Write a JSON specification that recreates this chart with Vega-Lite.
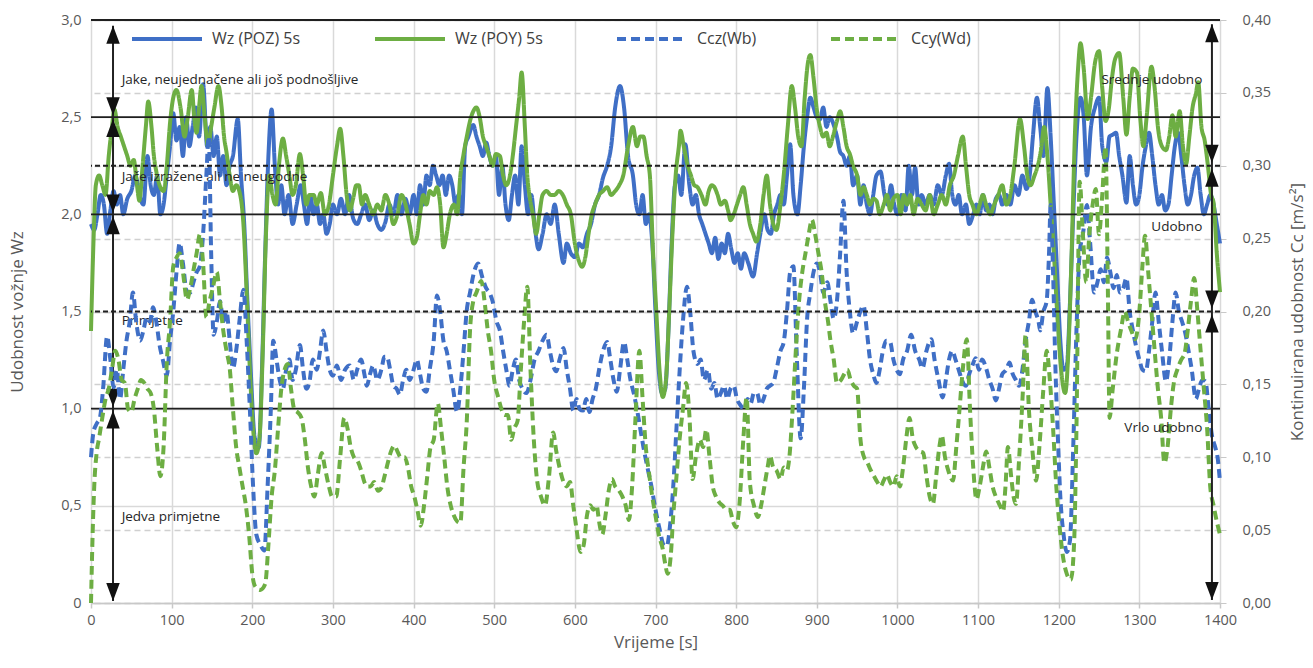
{
  "$schema": "https://vega.github.io/schema/vega-lite/v6.json",
  "width": 1129,
  "height": 583,
  "autosize": {"type": "none"},
  "padding": {"left": 91, "top": 20, "right": 93, "bottom": 65},
  "config": {
    "font": "Open Sans",
    "view": {"stroke": null},
    "legend": {
      "orient": "none",
      "legendX": 39,
      "legendY": -18,
      "direction": "horizontal",
      "columns": 4,
      "symbolType": "stroke",
      "symbolSize": 4900,
      "symbolStrokeWidth": 4,
      "labelFontSize": 16,
      "labelColor": "#404040",
      "labelFont": "Open Sans",
      "labelOffset": 8,
      "columnPadding": 66
    }
  },
  "datasets": {
    "poz": [
      {"t":0,"v":1.95},{"t":4,"v":1.92},{"t":8,"v":2.0},{"t":12,"v":2.1},{"t":16,"v":2.05},{"t":20,"v":1.9},{"t":24,"v":2.02},{"t":28,"v":2.12},{"t":32,"v":2.05},{"t":36,"v":2.1},{"t":40,"v":2.0},{"t":45,"v":2.08},{"t":50,"v":2.12},{"t":55,"v":2.2},{"t":60,"v":2.1},{"t":65,"v":2.05},{"t":70,"v":2.3},{"t":74,"v":2.15},{"t":78,"v":2.1},{"t":82,"v":2.2},{"t":86,"v":2.0},{"t":90,"v":2.05},{"t":94,"v":2.2},{"t":98,"v":2.35},{"t":102,"v":2.52},{"t":106,"v":2.38},{"t":110,"v":2.45},{"t":114,"v":2.3},{"t":118,"v":2.5},{"t":122,"v":2.35},{"t":126,"v":2.45},{"t":130,"v":2.55},{"t":134,"v":2.4},{"t":139,"v":2.67},{"t":144,"v":2.35},{"t":148,"v":2.45},{"t":152,"v":2.3},{"t":156,"v":2.4},{"t":160,"v":2.2},{"t":164,"v":2.3},{"t":168,"v":2.15},{"t":172,"v":2.25},{"t":176,"v":2.3},{"t":182,"v":2.49},{"t":186,"v":2.2},{"t":190,"v":1.95},{"t":194,"v":1.55},{"t":198,"v":1.2},{"t":203,"v":0.85},{"t":208,"v":0.8},{"t":212,"v":1.2},{"t":216,"v":1.8},{"t":220,"v":2.3},{"t":224,"v":2.54},{"t":228,"v":2.25},{"t":232,"v":2.05},{"t":236,"v":2.15},{"t":240,"v":2.0},{"t":245,"v":2.1},{"t":250,"v":1.95},{"t":255,"v":2.05},{"t":260,"v":2.15},{"t":264,"v":2.05},{"t":268,"v":1.95},{"t":272,"v":2.1},{"t":276,"v":2.0},{"t":280,"v":2.05},{"t":284,"v":1.95},{"t":288,"v":2.0},{"t":292,"v":1.9},{"t":296,"v":1.95},{"t":300,"v":2.05},{"t":305,"v":2.0},{"t":310,"v":2.08},{"t":315,"v":2.0},{"t":320,"v":2.1},{"t":325,"v":1.98},{"t":330,"v":1.95},{"t":335,"v":2.0},{"t":340,"v":2.05},{"t":345,"v":1.97},{"t":350,"v":2.02},{"t":355,"v":1.95},{"t":360,"v":1.92},{"t":365,"v":1.96},{"t":370,"v":2.05},{"t":375,"v":2.0},{"t":380,"v":2.1},{"t":385,"v":2.0},{"t":390,"v":2.08},{"t":395,"v":2.0},{"t":400,"v":2.1},{"t":404,"v":2.0},{"t":408,"v":2.15},{"t":412,"v":2.05},{"t":416,"v":2.2},{"t":420,"v":2.15},{"t":424,"v":2.25},{"t":428,"v":2.2},{"t":432,"v":2.15},{"t":436,"v":2.2},{"t":440,"v":2.1},{"t":444,"v":2.2},{"t":448,"v":2.15},{"t":452,"v":2.05},{"t":456,"v":2.1},{"t":460,"v":2.0},{"t":464,"v":2.35},{"t":468,"v":2.4},{"t":474,"v":2.46},{"t":478,"v":2.4},{"t":482,"v":2.35},{"t":486,"v":2.3},{"t":490,"v":2.37},{"t":494,"v":2.3},{"t":498,"v":2.25},{"t":502,"v":2.3},{"t":506,"v":2.1},{"t":510,"v":2.25},{"t":514,"v":2.05},{"t":518,"v":1.97},{"t":522,"v":2.1},{"t":526,"v":2.2},{"t":530,"v":2.05},{"t":534,"v":2.35},{"t":538,"v":2.15},{"t":542,"v":2.0},{"t":546,"v":2.1},{"t":550,"v":1.95},{"t":555,"v":1.82},{"t":560,"v":1.9},{"t":565,"v":2.0},{"t":570,"v":1.95},{"t":575,"v":2.05},{"t":580,"v":1.9},{"t":586,"v":1.75},{"t":590,"v":1.85},{"t":595,"v":1.8},{"t":600,"v":1.78},{"t":605,"v":1.85},{"t":610,"v":1.83},{"t":615,"v":1.9},{"t":620,"v":1.95},{"t":625,"v":2.05},{"t":630,"v":2.1},{"t":635,"v":2.19},{"t":640,"v":2.25},{"t":645,"v":2.35},{"t":650,"v":2.55},{"t":656,"v":2.66},{"t":661,"v":2.55},{"t":666,"v":2.3},{"t":672,"v":2.2},{"t":676,"v":2.05},{"t":680,"v":2.0},{"t":684,"v":2.1},{"t":688,"v":1.95},{"t":692,"v":2.0},{"t":696,"v":1.85},{"t":700,"v":1.5},{"t":704,"v":1.2},{"t":708,"v":1.08},{"t":712,"v":1.1},{"t":716,"v":1.4},{"t":720,"v":1.85},{"t":724,"v":2.15},{"t":728,"v":2.2},{"t":732,"v":2.1},{"t":737,"v":2.36},{"t":742,"v":2.15},{"t":746,"v":2.05},{"t":750,"v":2.1},{"t":754,"v":2.0},{"t":758,"v":1.95},{"t":762,"v":1.9},{"t":766,"v":1.85},{"t":770,"v":1.8},{"t":774,"v":1.88},{"t":778,"v":1.77},{"t":782,"v":1.85},{"t":786,"v":1.8},{"t":790,"v":1.9},{"t":794,"v":1.82},{"t":798,"v":1.75},{"t":802,"v":1.8},{"t":806,"v":1.72},{"t":810,"v":1.8},{"t":815,"v":1.75},{"t":821,"v":1.68},{"t":826,"v":1.8},{"t":830,"v":1.9},{"t":835,"v":2.0},{"t":839,"v":1.92},{"t":843,"v":1.9},{"t":847,"v":2.0},{"t":851,"v":2.05},{"t":855,"v":2.1},{"t":859,"v":2.05},{"t":863,"v":2.2},{"t":867,"v":2.36},{"t":871,"v":2.1},{"t":876,"v":2.0},{"t":880,"v":2.15},{"t":884,"v":2.35},{"t":888,"v":2.5},{"t":892,"v":2.6},{"t":896,"v":2.55},{"t":900,"v":2.5},{"t":904,"v":2.49},{"t":908,"v":2.55},{"t":912,"v":2.45},{"t":916,"v":2.5},{"t":921,"v":2.46},{"t":925,"v":2.4},{"t":929,"v":2.32},{"t":933,"v":2.3},{"t":937,"v":2.25},{"t":941,"v":2.3},{"t":945,"v":2.15},{"t":950,"v":2.2},{"t":954,"v":2.05},{"t":958,"v":2.15},{"t":962,"v":2.05},{"t":966,"v":2.0},{"t":970,"v":2.1},{"t":974,"v":2.2},{"t":979,"v":2.22},{"t":984,"v":2.1},{"t":988,"v":2.05},{"t":992,"v":2.15},{"t":996,"v":2.05},{"t":1000,"v":2.0},{"t":1005,"v":2.1},{"t":1010,"v":2.02},{"t":1014,"v":2.25},{"t":1018,"v":2.1},{"t":1022,"v":2.24},{"t":1026,"v":2.05},{"t":1030,"v":2.1},{"t":1035,"v":2.05},{"t":1040,"v":2.1},{"t":1045,"v":2.05},{"t":1050,"v":2.15},{"t":1055,"v":2.1},{"t":1060,"v":2.2},{"t":1064,"v":2.26},{"t":1068,"v":2.1},{"t":1072,"v":2.05},{"t":1076,"v":2.1},{"t":1080,"v":2.0},{"t":1085,"v":2.05},{"t":1089,"v":1.95},{"t":1094,"v":2.0},{"t":1098,"v":2.05},{"t":1102,"v":2.0},{"t":1106,"v":2.1},{"t":1110,"v":2.02},{"t":1114,"v":2.05},{"t":1118,"v":2.0},{"t":1122,"v":2.08},{"t":1126,"v":2.1},{"t":1130,"v":2.05},{"t":1135,"v":2.1},{"t":1140,"v":2.05},{"t":1145,"v":2.15},{"t":1150,"v":2.1},{"t":1155,"v":2.2},{"t":1160,"v":2.13},{"t":1164,"v":2.2},{"t":1168,"v":2.4},{"t":1173,"v":2.6},{"t":1177,"v":2.45},{"t":1181,"v":2.3},{"t":1186,"v":2.65},{"t":1190,"v":2.4},{"t":1194,"v":2.05},{"t":1198,"v":1.7},{"t":1202,"v":1.35},{"t":1206,"v":1.2},{"t":1210,"v":1.22},{"t":1214,"v":1.55},{"t":1218,"v":2.0},{"t":1222,"v":2.4},{"t":1227,"v":2.6},{"t":1231,"v":2.5},{"t":1235,"v":2.2},{"t":1240,"v":2.45},{"t":1245,"v":2.55},{"t":1250,"v":2.6},{"t":1254,"v":2.35},{"t":1259,"v":2.27},{"t":1263,"v":2.4},{"t":1267,"v":2.41},{"t":1271,"v":2.42},{"t":1275,"v":2.3},{"t":1279,"v":2.2},{"t":1284,"v":2.06},{"t":1288,"v":2.3},{"t":1292,"v":2.15},{"t":1296,"v":2.05},{"t":1300,"v":2.1},{"t":1304,"v":2.25},{"t":1308,"v":2.35},{"t":1312,"v":2.42},{"t":1316,"v":2.3},{"t":1320,"v":2.15},{"t":1324,"v":2.05},{"t":1328,"v":2.1},{"t":1332,"v":2.02},{"t":1336,"v":2.05},{"t":1340,"v":2.2},{"t":1344,"v":2.35},{"t":1348,"v":2.42},{"t":1352,"v":2.3},{"t":1356,"v":2.15},{"t":1360,"v":2.05},{"t":1364,"v":2.1},{"t":1368,"v":2.2},{"t":1372,"v":2.24},{"t":1376,"v":2.1},{"t":1380,"v":2.0},{"t":1384,"v":2.05},{"t":1388,"v":2.1},{"t":1392,"v":2.05},{"t":1396,"v":1.95},{"t":1400,"v":1.85}
    ],
    "poy": [
      {"t":0,"v":1.4},{"t":3,"v":1.85},{"t":6,"v":2.15},{"t":10,"v":2.2},{"t":14,"v":2.15},{"t":18,"v":2.1},{"t":22,"v":2.3},{"t":26,"v":2.45},{"t":29,"v":2.54},{"t":33,"v":2.45},{"t":37,"v":2.4},{"t":41,"v":2.35},{"t":45,"v":2.3},{"t":49,"v":2.25},{"t":53,"v":2.28},{"t":57,"v":2.15},{"t":60,"v":2.07},{"t":64,"v":2.25},{"t":68,"v":2.45},{"t":71,"v":2.58},{"t":75,"v":2.45},{"t":78,"v":2.3},{"t":81,"v":2.22},{"t":85,"v":2.15},{"t":90,"v":2.12},{"t":94,"v":2.25},{"t":98,"v":2.47},{"t":102,"v":2.6},{"t":106,"v":2.64},{"t":111,"v":2.55},{"t":116,"v":2.4},{"t":120,"v":2.5},{"t":125,"v":2.64},{"t":128,"v":2.5},{"t":131,"v":2.42},{"t":134,"v":2.55},{"t":137,"v":2.66},{"t":141,"v":2.5},{"t":145,"v":2.35},{"t":149,"v":2.45},{"t":153,"v":2.55},{"t":158,"v":2.66},{"t":162,"v":2.55},{"t":165,"v":2.4},{"t":168,"v":2.32},{"t":172,"v":2.2},{"t":176,"v":2.12},{"t":180,"v":2.15},{"t":185,"v":2.1},{"t":189,"v":1.95},{"t":193,"v":1.6},{"t":197,"v":1.2},{"t":201,"v":0.9},{"t":205,"v":0.77},{"t":209,"v":0.85},{"t":213,"v":1.3},{"t":217,"v":1.9},{"t":221,"v":2.2},{"t":225,"v":2.1},{"t":229,"v":2.05},{"t":233,"v":2.25},{"t":238,"v":2.39},{"t":242,"v":2.3},{"t":246,"v":2.2},{"t":250,"v":2.1},{"t":254,"v":2.15},{"t":259,"v":2.31},{"t":263,"v":2.2},{"t":267,"v":2.05},{"t":271,"v":2.1},{"t":276,"v":2.1},{"t":280,"v":2.05},{"t":285,"v":2.11},{"t":290,"v":2.0},{"t":295,"v":2.05},{"t":300,"v":2.2},{"t":305,"v":2.35},{"t":309,"v":2.44},{"t":313,"v":2.3},{"t":317,"v":2.1},{"t":321,"v":2.02},{"t":325,"v":2.08},{"t":329,"v":2.15},{"t":332,"v":2.15},{"t":336,"v":2.05},{"t":340,"v":2.1},{"t":345,"v":2.05},{"t":350,"v":2.0},{"t":355,"v":2.05},{"t":360,"v":2.02},{"t":365,"v":2.1},{"t":370,"v":2.05},{"t":375,"v":1.95},{"t":380,"v":2.0},{"t":385,"v":2.1},{"t":390,"v":2.05},{"t":395,"v":1.95},{"t":400,"v":1.85},{"t":404,"v":1.88},{"t":408,"v":2.0},{"t":412,"v":2.1},{"t":416,"v":2.05},{"t":420,"v":2.12},{"t":425,"v":2.1},{"t":429,"v":2.14},{"t":433,"v":2.05},{"t":437,"v":1.83},{"t":441,"v":1.9},{"t":445,"v":2.0},{"t":450,"v":2.05},{"t":454,"v":2.0},{"t":458,"v":2.2},{"t":462,"v":2.31},{"t":466,"v":2.4},{"t":470,"v":2.48},{"t":474,"v":2.53},{"t":478,"v":2.55},{"t":482,"v":2.5},{"t":486,"v":2.4},{"t":490,"v":2.35},{"t":494,"v":2.3},{"t":498,"v":2.25},{"t":502,"v":2.31},{"t":507,"v":2.3},{"t":511,"v":2.2},{"t":515,"v":2.15},{"t":519,"v":2.19},{"t":523,"v":2.3},{"t":527,"v":2.45},{"t":531,"v":2.6},{"t":534,"v":2.73},{"t":538,"v":2.45},{"t":541,"v":2.2},{"t":544,"v":2.09},{"t":548,"v":2.0},{"t":552,"v":1.9},{"t":556,"v":2.0},{"t":560,"v":2.1},{"t":565,"v":2.12},{"t":570,"v":2.1},{"t":575,"v":2.1},{"t":580,"v":2.12},{"t":585,"v":2.1},{"t":590,"v":2.05},{"t":595,"v":2.0},{"t":600,"v":1.85},{"t":605,"v":1.76},{"t":609,"v":1.73},{"t":613,"v":1.78},{"t":617,"v":1.9},{"t":621,"v":2.0},{"t":625,"v":2.05},{"t":630,"v":2.1},{"t":635,"v":2.12},{"t":640,"v":2.14},{"t":645,"v":2.1},{"t":650,"v":2.12},{"t":655,"v":2.15},{"t":660,"v":2.2},{"t":666,"v":2.35},{"t":672,"v":2.45},{"t":677,"v":2.35},{"t":681,"v":2.4},{"t":685,"v":2.4},{"t":689,"v":2.3},{"t":693,"v":2.2},{"t":697,"v":1.8},{"t":701,"v":1.5},{"t":705,"v":1.2},{"t":709,"v":1.06},{"t":713,"v":1.15},{"t":717,"v":1.5},{"t":721,"v":1.9},{"t":725,"v":2.2},{"t":729,"v":2.35},{"t":731,"v":2.43},{"t":735,"v":2.35},{"t":740,"v":2.25},{"t":744,"v":2.2},{"t":748,"v":2.15},{"t":752,"v":2.14},{"t":757,"v":2.1},{"t":762,"v":2.05},{"t":766,"v":2.12},{"t":770,"v":2.15},{"t":773,"v":2.14},{"t":777,"v":2.1},{"t":781,"v":2.05},{"t":786,"v":2.07},{"t":790,"v":2.02},{"t":793,"v":1.97},{"t":797,"v":2.0},{"t":801,"v":2.05},{"t":805,"v":2.1},{"t":809,"v":2.14},{"t":813,"v":2.05},{"t":817,"v":1.95},{"t":821,"v":1.9},{"t":825,"v":1.86},{"t":830,"v":1.95},{"t":834,"v":2.1},{"t":838,"v":2.2},{"t":842,"v":2.05},{"t":846,"v":1.95},{"t":850,"v":1.92},{"t":855,"v":2.05},{"t":859,"v":2.2},{"t":864,"v":2.45},{"t":869,"v":2.66},{"t":873,"v":2.55},{"t":877,"v":2.4},{"t":881,"v":2.35},{"t":885,"v":2.6},{"t":889,"v":2.78},{"t":892,"v":2.82},{"t":896,"v":2.7},{"t":900,"v":2.54},{"t":904,"v":2.45},{"t":908,"v":2.4},{"t":912,"v":2.42},{"t":916,"v":2.35},{"t":920,"v":2.4},{"t":925,"v":2.48},{"t":929,"v":2.53},{"t":933,"v":2.45},{"t":937,"v":2.35},{"t":941,"v":2.31},{"t":945,"v":2.25},{"t":950,"v":2.2},{"t":954,"v":2.1},{"t":958,"v":2.14},{"t":962,"v":2.1},{"t":966,"v":2.05},{"t":970,"v":2.08},{"t":974,"v":2.07},{"t":978,"v":2.0},{"t":983,"v":2.05},{"t":987,"v":2.1},{"t":991,"v":2.02},{"t":995,"v":2.08},{"t":1000,"v":2.1},{"t":1004,"v":2.0},{"t":1008,"v":2.1},{"t":1012,"v":2.05},{"t":1016,"v":2.1},{"t":1020,"v":2.0},{"t":1025,"v":2.08},{"t":1030,"v":2.05},{"t":1035,"v":2.02},{"t":1040,"v":2.1},{"t":1045,"v":2.0},{"t":1050,"v":2.05},{"t":1055,"v":2.1},{"t":1060,"v":2.05},{"t":1065,"v":2.15},{"t":1070,"v":2.2},{"t":1075,"v":2.3},{"t":1081,"v":2.4},{"t":1085,"v":2.25},{"t":1089,"v":2.1},{"t":1093,"v":2.05},{"t":1098,"v":2.0},{"t":1102,"v":2.05},{"t":1106,"v":2.1},{"t":1110,"v":2.05},{"t":1115,"v":2.0},{"t":1120,"v":2.05},{"t":1125,"v":2.1},{"t":1130,"v":2.15},{"t":1135,"v":2.05},{"t":1140,"v":2.1},{"t":1145,"v":2.25},{"t":1152,"v":2.49},{"t":1157,"v":2.35},{"t":1161,"v":2.2},{"t":1165,"v":2.15},{"t":1170,"v":2.2},{"t":1174,"v":2.25},{"t":1178,"v":2.33},{"t":1182,"v":2.45},{"t":1186,"v":2.3},{"t":1190,"v":2.05},{"t":1194,"v":1.8},{"t":1198,"v":1.5},{"t":1203,"v":1.2},{"t":1208,"v":1.08},{"t":1212,"v":1.3},{"t":1216,"v":1.8},{"t":1220,"v":2.4},{"t":1224,"v":2.75},{"t":1227,"v":2.88},{"t":1231,"v":2.75},{"t":1236,"v":2.49},{"t":1240,"v":2.6},{"t":1245,"v":2.78},{"t":1250,"v":2.84},{"t":1254,"v":2.65},{"t":1258,"v":2.48},{"t":1262,"v":2.54},{"t":1266,"v":2.7},{"t":1270,"v":2.8},{"t":1275,"v":2.83},{"t":1280,"v":2.6},{"t":1284,"v":2.41},{"t":1288,"v":2.6},{"t":1292,"v":2.75},{"t":1297,"v":2.73},{"t":1301,"v":2.5},{"t":1305,"v":2.35},{"t":1309,"v":2.5},{"t":1315,"v":2.76},{"t":1319,"v":2.65},{"t":1323,"v":2.45},{"t":1328,"v":2.35},{"t":1333,"v":2.33},{"t":1337,"v":2.4},{"t":1341,"v":2.51},{"t":1345,"v":2.4},{"t":1350,"v":2.53},{"t":1354,"v":2.35},{"t":1358,"v":2.26},{"t":1362,"v":2.4},{"t":1366,"v":2.55},{"t":1370,"v":2.62},{"t":1373,"v":2.68},{"t":1377,"v":2.45},{"t":1381,"v":2.38},{"t":1385,"v":2.25},{"t":1389,"v":2.1},{"t":1392,"v":2.06},{"t":1396,"v":1.8},{"t":1400,"v":1.6}
    ],
    "ccz": [
      {"t":0,"v":0.1},{"t":3,"v":0.117},{"t":7,"v":0.123},{"t":11,"v":0.127},{"t":15,"v":0.147},{"t":20,"v":0.183},{"t":24,"v":0.167},{"t":28,"v":0.148},{"t":32,"v":0.16},{"t":36,"v":0.14},{"t":40,"v":0.16},{"t":44,"v":0.18},{"t":48,"v":0.193},{"t":52,"v":0.213},{"t":56,"v":0.193},{"t":61,"v":0.18},{"t":65,"v":0.187},{"t":69,"v":0.196},{"t":73,"v":0.193},{"t":77,"v":0.203},{"t":81,"v":0.193},{"t":85,"v":0.177},{"t":89,"v":0.167},{"t":94,"v":0.156},{"t":98,"v":0.18},{"t":102,"v":0.2},{"t":106,"v":0.227},{"t":110,"v":0.247},{"t":114,"v":0.233},{"t":119,"v":0.213},{"t":123,"v":0.213},{"t":127,"v":0.22},{"t":131,"v":0.227},{"t":135,"v":0.231},{"t":139,"v":0.253},{"t":143,"v":0.293},{"t":146,"v":0.32},{"t":149,"v":0.24},{"t":152,"v":0.184},{"t":156,"v":0.193},{"t":160,"v":0.207},{"t":164,"v":0.193},{"t":168,"v":0.2},{"t":172,"v":0.18},{"t":176,"v":0.161},{"t":180,"v":0.173},{"t":184,"v":0.193},{"t":189,"v":0.215},{"t":193,"v":0.18},{"t":197,"v":0.133},{"t":201,"v":0.08},{"t":205,"v":0.047},{"t":210,"v":0.04},{"t":215,"v":0.036},{"t":219,"v":0.08},{"t":223,"v":0.133},{"t":226,"v":0.18},{"t":230,"v":0.167},{"t":234,"v":0.153},{"t":238,"v":0.147},{"t":242,"v":0.16},{"t":246,"v":0.167},{"t":250,"v":0.153},{"t":254,"v":0.16},{"t":259,"v":0.177},{"t":263,"v":0.16},{"t":267,"v":0.147},{"t":271,"v":0.152},{"t":275,"v":0.167},{"t":280,"v":0.16},{"t":284,"v":0.173},{"t":288,"v":0.187},{"t":292,"v":0.173},{"t":296,"v":0.16},{"t":300,"v":0.156},{"t":305,"v":0.163},{"t":310,"v":0.153},{"t":315,"v":0.16},{"t":321,"v":0.163},{"t":326,"v":0.153},{"t":330,"v":0.16},{"t":335,"v":0.167},{"t":339,"v":0.157},{"t":342,"v":0.149},{"t":346,"v":0.157},{"t":350,"v":0.163},{"t":355,"v":0.153},{"t":360,"v":0.16},{"t":364,"v":0.169},{"t":367,"v":0.169},{"t":371,"v":0.16},{"t":375,"v":0.149},{"t":379,"v":0.147},{"t":383,"v":0.143},{"t":387,"v":0.153},{"t":391,"v":0.16},{"t":395,"v":0.153},{"t":400,"v":0.16},{"t":404,"v":0.167},{"t":408,"v":0.157},{"t":412,"v":0.147},{"t":416,"v":0.145},{"t":420,"v":0.16},{"t":425,"v":0.18},{"t":429,"v":0.211},{"t":433,"v":0.2},{"t":437,"v":0.18},{"t":441,"v":0.173},{"t":445,"v":0.16},{"t":449,"v":0.147},{"t":454,"v":0.131},{"t":458,"v":0.147},{"t":462,"v":0.173},{"t":466,"v":0.201},{"t":470,"v":0.213},{"t":475,"v":0.227},{"t":480,"v":0.233},{"t":485,"v":0.224},{"t":490,"v":0.216},{"t":494,"v":0.213},{"t":498,"v":0.207},{"t":503,"v":0.193},{"t":507,"v":0.187},{"t":511,"v":0.173},{"t":515,"v":0.16},{"t":519,"v":0.149},{"t":523,"v":0.16},{"t":527,"v":0.167},{"t":531,"v":0.153},{"t":535,"v":0.147},{"t":540,"v":0.144},{"t":545,"v":0.153},{"t":550,"v":0.167},{"t":555,"v":0.173},{"t":560,"v":0.18},{"t":565,"v":0.184},{"t":569,"v":0.173},{"t":573,"v":0.163},{"t":577,"v":0.159},{"t":581,"v":0.167},{"t":586,"v":0.175},{"t":590,"v":0.16},{"t":594,"v":0.147},{"t":598,"v":0.132},{"t":602,"v":0.14},{"t":606,"v":0.133},{"t":610,"v":0.132},{"t":614,"v":0.14},{"t":618,"v":0.131},{"t":622,"v":0.14},{"t":626,"v":0.147},{"t":630,"v":0.16},{"t":635,"v":0.173},{"t":640,"v":0.179},{"t":644,"v":0.167},{"t":648,"v":0.153},{"t":652,"v":0.145},{"t":656,"v":0.16},{"t":661,"v":0.179},{"t":665,"v":0.167},{"t":669,"v":0.153},{"t":673,"v":0.144},{"t":677,"v":0.133},{"t":681,"v":0.12},{"t":685,"v":0.107},{"t":690,"v":0.093},{"t":695,"v":0.08},{"t":700,"v":0.064},{"t":705,"v":0.051},{"t":710,"v":0.04},{"t":714,"v":0.039},{"t":718,"v":0.053},{"t":722,"v":0.08},{"t":726,"v":0.12},{"t":730,"v":0.16},{"t":734,"v":0.193},{"t":739,"v":0.217},{"t":743,"v":0.2},{"t":747,"v":0.173},{"t":752,"v":0.164},{"t":756,"v":0.167},{"t":760,"v":0.153},{"t":765,"v":0.16},{"t":769,"v":0.147},{"t":773,"v":0.151},{"t":777,"v":0.14},{"t":781,"v":0.144},{"t":785,"v":0.149},{"t":789,"v":0.14},{"t":793,"v":0.147},{"t":797,"v":0.149},{"t":801,"v":0.14},{"t":805,"v":0.136},{"t":810,"v":0.133},{"t":814,"v":0.14},{"t":818,"v":0.137},{"t":822,"v":0.144},{"t":826,"v":0.144},{"t":830,"v":0.136},{"t":834,"v":0.14},{"t":838,"v":0.147},{"t":842,"v":0.149},{"t":846,"v":0.151},{"t":850,"v":0.16},{"t":855,"v":0.173},{"t":859,"v":0.179},{"t":863,"v":0.2},{"t":867,"v":0.227},{"t":871,"v":0.231},{"t":875,"v":0.173},{"t":880,"v":0.113},{"t":884,"v":0.147},{"t":888,"v":0.195},{"t":892,"v":0.213},{"t":896,"v":0.227},{"t":900,"v":0.233},{"t":904,"v":0.227},{"t":908,"v":0.213},{"t":913,"v":0.22},{"t":917,"v":0.207},{"t":921,"v":0.195},{"t":925,"v":0.207},{"t":929,"v":0.24},{"t":933,"v":0.276},{"t":937,"v":0.227},{"t":941,"v":0.2},{"t":945,"v":0.185},{"t":950,"v":0.193},{"t":954,"v":0.2},{"t":958,"v":0.204},{"t":962,"v":0.187},{"t":966,"v":0.167},{"t":970,"v":0.157},{"t":974,"v":0.151},{"t":978,"v":0.16},{"t":982,"v":0.173},{"t":986,"v":0.18},{"t":991,"v":0.179},{"t":995,"v":0.167},{"t":999,"v":0.16},{"t":1003,"v":0.157},{"t":1007,"v":0.167},{"t":1012,"v":0.173},{"t":1017,"v":0.184},{"t":1022,"v":0.173},{"t":1027,"v":0.167},{"t":1031,"v":0.161},{"t":1036,"v":0.173},{"t":1042,"v":0.181},{"t":1046,"v":0.167},{"t":1051,"v":0.153},{"t":1056,"v":0.141},{"t":1060,"v":0.153},{"t":1064,"v":0.167},{"t":1068,"v":0.173},{"t":1072,"v":0.167},{"t":1076,"v":0.16},{"t":1080,"v":0.153},{"t":1085,"v":0.149},{"t":1089,"v":0.157},{"t":1093,"v":0.163},{"t":1097,"v":0.168},{"t":1101,"v":0.16},{"t":1105,"v":0.167},{"t":1110,"v":0.161},{"t":1114,"v":0.153},{"t":1118,"v":0.147},{"t":1122,"v":0.139},{"t":1126,"v":0.147},{"t":1130,"v":0.157},{"t":1135,"v":0.16},{"t":1139,"v":0.165},{"t":1143,"v":0.157},{"t":1147,"v":0.153},{"t":1151,"v":0.149},{"t":1155,"v":0.16},{"t":1159,"v":0.18},{"t":1163,"v":0.193},{"t":1167,"v":0.208},{"t":1171,"v":0.2},{"t":1175,"v":0.193},{"t":1177,"v":0.187},{"t":1181,"v":0.2},{"t":1185,"v":0.207},{"t":1188,"v":0.24},{"t":1190,"v":0.273},{"t":1193,"v":0.227},{"t":1196,"v":0.16},{"t":1199,"v":0.113},{"t":1202,"v":0.073},{"t":1206,"v":0.047},{"t":1210,"v":0.035},{"t":1214,"v":0.043},{"t":1218,"v":0.107},{"t":1222,"v":0.187},{"t":1226,"v":0.24},{"t":1230,"v":0.253},{"t":1235,"v":0.273},{"t":1239,"v":0.247},{"t":1244,"v":0.213},{"t":1248,"v":0.22},{"t":1252,"v":0.229},{"t":1256,"v":0.22},{"t":1260,"v":0.237},{"t":1264,"v":0.227},{"t":1268,"v":0.216},{"t":1272,"v":0.225},{"t":1276,"v":0.213},{"t":1280,"v":0.216},{"t":1284,"v":0.223},{"t":1288,"v":0.2},{"t":1292,"v":0.187},{"t":1296,"v":0.176},{"t":1300,"v":0.167},{"t":1304,"v":0.16},{"t":1308,"v":0.159},{"t":1312,"v":0.173},{"t":1316,"v":0.193},{"t":1320,"v":0.213},{"t":1324,"v":0.193},{"t":1328,"v":0.173},{"t":1333,"v":0.152},{"t":1337,"v":0.167},{"t":1341,"v":0.193},{"t":1345,"v":0.213},{"t":1349,"v":0.2},{"t":1353,"v":0.193},{"t":1357,"v":0.185},{"t":1361,"v":0.173},{"t":1365,"v":0.16},{"t":1370,"v":0.14},{"t":1374,"v":0.147},{"t":1378,"v":0.153},{"t":1382,"v":0.152},{"t":1386,"v":0.133},{"t":1390,"v":0.115},{"t":1394,"v":0.107},{"t":1397,"v":0.1},{"t":1400,"v":0.083}
    ],
    "ccy": [
      {"t":0,"v":0.0},{"t":2,"v":0.047},{"t":4,"v":0.08},{"t":7,"v":0.103},{"t":10,"v":0.113},{"t":14,"v":0.127},{"t":18,"v":0.14},{"t":22,"v":0.147},{"t":26,"v":0.16},{"t":30,"v":0.173},{"t":34,"v":0.167},{"t":38,"v":0.153},{"t":42,"v":0.151},{"t":46,"v":0.133},{"t":50,"v":0.131},{"t":54,"v":0.14},{"t":58,"v":0.147},{"t":62,"v":0.153},{"t":66,"v":0.151},{"t":70,"v":0.147},{"t":74,"v":0.144},{"t":78,"v":0.133},{"t":82,"v":0.107},{"t":86,"v":0.087},{"t":90,"v":0.107},{"t":94,"v":0.165},{"t":98,"v":0.193},{"t":102,"v":0.231},{"t":106,"v":0.237},{"t":110,"v":0.24},{"t":114,"v":0.227},{"t":119,"v":0.208},{"t":123,"v":0.216},{"t":127,"v":0.228},{"t":131,"v":0.24},{"t":135,"v":0.253},{"t":139,"v":0.233},{"t":143,"v":0.196},{"t":147,"v":0.207},{"t":151,"v":0.216},{"t":156,"v":0.227},{"t":160,"v":0.207},{"t":164,"v":0.187},{"t":168,"v":0.173},{"t":172,"v":0.161},{"t":176,"v":0.133},{"t":180,"v":0.107},{"t":184,"v":0.093},{"t":188,"v":0.08},{"t":192,"v":0.067},{"t":196,"v":0.047},{"t":200,"v":0.02},{"t":204,"v":0.011},{"t":210,"v":0.009},{"t":216,"v":0.013},{"t":220,"v":0.04},{"t":224,"v":0.073},{"t":228,"v":0.091},{"t":232,"v":0.12},{"t":236,"v":0.147},{"t":240,"v":0.16},{"t":244,"v":0.164},{"t":248,"v":0.147},{"t":252,"v":0.133},{"t":256,"v":0.131},{"t":261,"v":0.127},{"t":265,"v":0.113},{"t":269,"v":0.093},{"t":273,"v":0.08},{"t":277,"v":0.073},{"t":281,"v":0.087},{"t":286,"v":0.103},{"t":290,"v":0.093},{"t":295,"v":0.08},{"t":299,"v":0.073},{"t":304,"v":0.073},{"t":309,"v":0.1},{"t":314,"v":0.127},{"t":318,"v":0.12},{"t":322,"v":0.107},{"t":326,"v":0.1},{"t":331,"v":0.097},{"t":335,"v":0.091},{"t":339,"v":0.083},{"t":343,"v":0.08},{"t":347,"v":0.08},{"t":351,"v":0.083},{"t":356,"v":0.077},{"t":360,"v":0.079},{"t":364,"v":0.087},{"t":368,"v":0.096},{"t":372,"v":0.104},{"t":376,"v":0.108},{"t":380,"v":0.104},{"t":384,"v":0.1},{"t":389,"v":0.1},{"t":393,"v":0.093},{"t":397,"v":0.08},{"t":401,"v":0.073},{"t":405,"v":0.063},{"t":409,"v":0.053},{"t":413,"v":0.067},{"t":417,"v":0.087},{"t":421,"v":0.107},{"t":425,"v":0.112},{"t":430,"v":0.137},{"t":434,"v":0.12},{"t":438,"v":0.1},{"t":442,"v":0.079},{"t":446,"v":0.067},{"t":450,"v":0.06},{"t":454,"v":0.056},{"t":458,"v":0.055},{"t":462,"v":0.093},{"t":466,"v":0.125},{"t":470,"v":0.187},{"t":474,"v":0.207},{"t":478,"v":0.213},{"t":484,"v":0.221},{"t":488,"v":0.207},{"t":492,"v":0.187},{"t":496,"v":0.173},{"t":500,"v":0.153},{"t":505,"v":0.141},{"t":509,"v":0.133},{"t":513,"v":0.129},{"t":517,"v":0.129},{"t":521,"v":0.112},{"t":525,"v":0.12},{"t":529,"v":0.125},{"t":533,"v":0.16},{"t":537,"v":0.193},{"t":541,"v":0.217},{"t":545,"v":0.16},{"t":549,"v":0.113},{"t":553,"v":0.085},{"t":558,"v":0.073},{"t":563,"v":0.067},{"t":568,"v":0.087},{"t":573,"v":0.117},{"t":577,"v":0.104},{"t":581,"v":0.093},{"t":586,"v":0.083},{"t":590,"v":0.08},{"t":594,"v":0.083},{"t":598,"v":0.067},{"t":602,"v":0.051},{"t":607,"v":0.035},{"t":611,"v":0.04},{"t":615,"v":0.06},{"t":619,"v":0.067},{"t":623,"v":0.064},{"t":627,"v":0.067},{"t":630,"v":0.056},{"t":634,"v":0.047},{"t":638,"v":0.06},{"t":642,"v":0.077},{"t":646,"v":0.085},{"t":650,"v":0.08},{"t":655,"v":0.077},{"t":659,"v":0.073},{"t":663,"v":0.067},{"t":667,"v":0.057},{"t":671,"v":0.08},{"t":675,"v":0.125},{"t":680,"v":0.173},{"t":684,"v":0.14},{"t":688,"v":0.107},{"t":692,"v":0.089},{"t":696,"v":0.073},{"t":700,"v":0.06},{"t":704,"v":0.047},{"t":709,"v":0.037},{"t":712,"v":0.027},{"t":715,"v":0.02},{"t":719,"v":0.033},{"t":722,"v":0.06},{"t":725,"v":0.08},{"t":730,"v":0.113},{"t":734,"v":0.133},{"t":738,"v":0.151},{"t":742,"v":0.129},{"t":746,"v":0.085},{"t":750,"v":0.1},{"t":755,"v":0.112},{"t":759,"v":0.107},{"t":763,"v":0.119},{"t":767,"v":0.1},{"t":771,"v":0.08},{"t":775,"v":0.073},{"t":779,"v":0.069},{"t":783,"v":0.067},{"t":788,"v":0.064},{"t":792,"v":0.064},{"t":796,"v":0.056},{"t":800,"v":0.052},{"t":804,"v":0.067},{"t":809,"v":0.113},{"t":813,"v":0.141},{"t":817,"v":0.083},{"t":822,"v":0.067},{"t":827,"v":0.059},{"t":831,"v":0.067},{"t":835,"v":0.08},{"t":839,"v":0.093},{"t":842,"v":0.101},{"t":846,"v":0.093},{"t":850,"v":0.091},{"t":855,"v":0.085},{"t":859,"v":0.093},{"t":863,"v":0.091},{"t":866,"v":0.1},{"t":870,"v":0.133},{"t":874,"v":0.173},{"t":878,"v":0.207},{"t":882,"v":0.227},{"t":886,"v":0.24},{"t":890,"v":0.253},{"t":894,"v":0.263},{"t":898,"v":0.253},{"t":902,"v":0.24},{"t":906,"v":0.227},{"t":910,"v":0.207},{"t":914,"v":0.193},{"t":917,"v":0.18},{"t":921,"v":0.167},{"t":925,"v":0.151},{"t":930,"v":0.153},{"t":934,"v":0.157},{"t":938,"v":0.16},{"t":942,"v":0.153},{"t":946,"v":0.149},{"t":950,"v":0.147},{"t":954,"v":0.113},{"t":958,"v":0.101},{"t":963,"v":0.096},{"t":967,"v":0.091},{"t":971,"v":0.087},{"t":975,"v":0.083},{"t":979,"v":0.08},{"t":983,"v":0.084},{"t":987,"v":0.088},{"t":991,"v":0.083},{"t":995,"v":0.08},{"t":999,"v":0.087},{"t":1003,"v":0.08},{"t":1007,"v":0.093},{"t":1011,"v":0.113},{"t":1015,"v":0.127},{"t":1019,"v":0.113},{"t":1023,"v":0.107},{"t":1028,"v":0.104},{"t":1032,"v":0.103},{"t":1036,"v":0.087},{"t":1040,"v":0.073},{"t":1044,"v":0.068},{"t":1048,"v":0.087},{"t":1052,"v":0.107},{"t":1055,"v":0.115},{"t":1059,"v":0.1},{"t":1063,"v":0.091},{"t":1069,"v":0.084},{"t":1073,"v":0.107},{"t":1077,"v":0.133},{"t":1081,"v":0.16},{"t":1086,"v":0.181},{"t":1090,"v":0.133},{"t":1094,"v":0.093},{"t":1098,"v":0.071},{"t":1102,"v":0.08},{"t":1106,"v":0.093},{"t":1110,"v":0.104},{"t":1114,"v":0.093},{"t":1118,"v":0.08},{"t":1122,"v":0.073},{"t":1127,"v":0.067},{"t":1131,"v":0.063},{"t":1134,"v":0.08},{"t":1137,"v":0.107},{"t":1141,"v":0.087},{"t":1144,"v":0.073},{"t":1147,"v":0.068},{"t":1151,"v":0.1},{"t":1155,"v":0.139},{"t":1159,"v":0.184},{"t":1163,"v":0.133},{"t":1167,"v":0.107},{"t":1172,"v":0.084},{"t":1176,"v":0.107},{"t":1181,"v":0.147},{"t":1185,"v":0.173},{"t":1189,"v":0.153},{"t":1193,"v":0.12},{"t":1197,"v":0.08},{"t":1201,"v":0.053},{"t":1205,"v":0.033},{"t":1210,"v":0.02},{"t":1215,"v":0.016},{"t":1219,"v":0.04},{"t":1222,"v":0.12},{"t":1226,"v":0.289},{"t":1230,"v":0.253},{"t":1234,"v":0.22},{"t":1238,"v":0.253},{"t":1242,"v":0.273},{"t":1246,"v":0.284},{"t":1250,"v":0.253},{"t":1254,"v":0.28},{"t":1258,"v":0.313},{"t":1261,"v":0.213},{"t":1263,"v":0.127},{"t":1267,"v":0.147},{"t":1272,"v":0.171},{"t":1277,"v":0.187},{"t":1282,"v":0.2},{"t":1286,"v":0.193},{"t":1290,"v":0.187},{"t":1295,"v":0.181},{"t":1300,"v":0.2},{"t":1304,"v":0.233},{"t":1307,"v":0.252},{"t":1311,"v":0.227},{"t":1315,"v":0.2},{"t":1319,"v":0.173},{"t":1323,"v":0.147},{"t":1327,"v":0.127},{"t":1331,"v":0.096},{"t":1335,"v":0.107},{"t":1339,"v":0.133},{"t":1343,"v":0.152},{"t":1347,"v":0.16},{"t":1352,"v":0.167},{"t":1356,"v":0.171},{"t":1360,"v":0.187},{"t":1364,"v":0.207},{"t":1368,"v":0.223},{"t":1372,"v":0.2},{"t":1376,"v":0.173},{"t":1380,"v":0.147},{"t":1384,"v":0.12},{"t":1388,"v":0.079},{"t":1392,"v":0.067},{"t":1396,"v":0.056},{"t":1400,"v":0.047}
    ],
    "leftRules": [{"v":1.0},{"v":2.0},{"v":2.5},{"v":3.0}],
    "rightRules": [{"v":0.2},{"v":0.3}],
    "leftArrow": [{"t":27.3,"v":0.01,"v2":2.97}],
    "rightArrow": [{"t":1390,"v":0.002,"v2":0.397}],
    "leftHeads": [
      {"t":27.3,"v":2.97,"dir":"up"},{"t":27.3,"v":2.49,"dir":"up"},{"t":27.3,"v":1.99,"dir":"up"},{"t":27.3,"v":0.99,"dir":"up"},
      {"t":27.3,"v":2.51,"dir":"down"},{"t":27.3,"v":2.01,"dir":"down"},{"t":27.3,"v":1.01,"dir":"down"},{"t":27.3,"v":0.01,"dir":"down"}
    ],
    "rightHeads": [
      {"t":1390,"v":0.397,"dir":"up"},{"t":1390,"v":0.298,"dir":"up"},{"t":1390,"v":0.198,"dir":"up"},
      {"t":1390,"v":0.302,"dir":"down"},{"t":1390,"v":0.202,"dir":"down"},{"t":1390,"v":0.002,"dir":"down"}
    ],
    "leftLabels": [
      {"t":38,"v":2.69,"label":"Jake, neujednačene ali još podnošljive"},
      {"t":38,"v":2.19,"label":"Jače izražene ali ne neugodne"},
      {"t":38,"v":1.45,"label":"Primjetne"},
      {"t":38,"v":0.44,"label":"Jedva primjetne"}
    ],
    "rightLabels": [
      {"t":1378,"v":0.359,"label":"Srednje udobno"},
      {"t":1378,"v":0.258,"label":"Udobno"},
      {"t":1378,"v":0.12,"label":"Vrlo udobno"}
    ]
  },
  "layer": [
    {
      "encoding": {
        "y": {
          "field": "v",
          "type": "quantitative",
          "scale": {"domain": [0, 3], "nice": false},
          "axis": {
            "orient": "left",
            "title": "Udobnost vožnje Wz",
            "values": [0,0.5,1,1.5,2,2.5,3],
            "labelExpr": "datum.value == 0 ? '0' : replace(format(datum.value, '.1f'), '.', ',')",
            "grid": true,
            "gridColor": "#d9d9d9",
            "gridWidth": 1.5,
            "domain": false,
            "ticks": false,
            "labelPadding": 10,
            "labelFontSize": 14.5,
            "labelColor": "#595959",
            "titleFontSize": 17,
            "titleFontWeight": "normal",
            "titleColor": "#595959",
            "titlePadding": 34
          }
        }
      },
      "layer": [
        {
          "data": {"name": "poz"},
          "mark": {"type": "line", "interpolate": "monotone", "strokeWidth": 4},
          "encoding": {
            "x": {
              "field": "t",
              "type": "quantitative",
              "scale": {"domain": [0, 1400], "nice": false, "zero": false},
              "axis": {
                "title": "Vrijeme [s]",
                "values": [0,100,200,300,400,500,600,700,800,900,1000,1100,1200,1300,1400],
                "format": "d",
                "grid": true,
                "gridColor": "#d9d9d9",
                "gridWidth": 1.5,
                "domainColor": "#c8c8c8",
                "domainWidth": 1.5,
                "tickColor": "#c8c8c8",
                "tickWidth": 1.5,
                "tickSize": 5,
                "labelPadding": 5,
                "labelFlush": false,
                "labelFontSize": 14.5,
                "labelColor": "#595959",
                "titleFontSize": 17,
                "titleFontWeight": "normal",
                "titleColor": "#595959",
                "titlePadding": 8
              }
            },
            "color": {"datum": "Wz (POZ) 5s", "scale": {"domain": ["Wz (POZ) 5s","Wz (POY) 5s","Ccz(Wb)","Ccy(Wd)"], "range": ["#3F6FC6","#6DAE43","#3F6FC6","#6DAE43"]}, "legend": {"title": null}},
            "strokeDash": {"datum": "Wz (POZ) 5s", "scale": {"domain": ["Wz (POZ) 5s","Wz (POY) 5s","Ccz(Wb)","Ccy(Wd)"], "range": [[1,0],[1,0],[9,5],[9,5]]}, "legend": {"title": null}}
          }
        },
        {
          "data": {"name": "poy"},
          "mark": {"type": "line", "interpolate": "monotone", "strokeWidth": 4},
          "encoding": {
            "x": {"field": "t", "type": "quantitative", "title": "Vrijeme [s]"},
            "color": {"datum": "Wz (POY) 5s"},
            "strokeDash": {"datum": "Wz (POY) 5s"}
          }
        },
        {
          "data": {"name": "leftRules"},
          "mark": {"type": "rule", "color": "#1f1f1f", "strokeWidth": 1.8},
          "encoding": {}
        },
        {
          "data": {"name": "leftArrow"},
          "mark": {"type": "rule", "color": "#222222", "strokeWidth": 2},
          "encoding": {"x": {"field": "t", "type": "quantitative", "title": "Vrijeme [s]"}, "y2": {"field": "v2"}}
        },
        {
          "data": {"name": "leftHeads"},
          "mark": {"type": "point", "filled": true, "opacity": 1, "size": 324, "color": "#111111", "strokeWidth": 0},
          "encoding": {
            "x": {"field": "t", "type": "quantitative", "title": "Vrijeme [s]"},
            "shape": {"field": "dir", "type": "nominal", "scale": {"domain": ["up","down"], "range": ["M0,0L-0.75,2L0.75,2Z","M0,0L-0.75,-2L0.75,-2Z"]}, "legend": null}
          }
        },
        {
          "data": {"name": "leftLabels"},
          "mark": {"type": "text", "align": "left", "baseline": "middle", "fontSize": 13.5, "color": "#262626", "font": "Open Sans"},
          "encoding": {"x": {"field": "t", "type": "quantitative", "title": "Vrijeme [s]"}, "text": {"field": "label"}}
        }
      ]
    },
    {
      "encoding": {
        "y": {
          "field": "v",
          "type": "quantitative",
          "scale": {"domain": [0, 0.4], "nice": false},
          "axis": {
            "orient": "right",
            "title": "Kontinuirana udobnost Cc [m/s²]",
            "values": [0,0.05,0.1,0.15,0.2,0.25,0.3,0.35,0.4],
            "labelExpr": "replace(format(datum.value, '.2f'), '.', ',')",
            "grid": true,
            "gridColor": "#d0d0d0",
            "gridWidth": 1.5,
            "gridDash": [6, 4],
            "domain": false,
            "ticks": true,
            "tickColor": "#c8c8c8",
            "tickSize": 6,
            "labelPadding": 16,
            "labelFontSize": 14.5,
            "labelColor": "#595959",
            "titleFontSize": 17,
            "titleFontWeight": "normal",
            "titleColor": "#595959",
            "titleAngle": 270,
            "titlePadding": 36
          }
        }
      },
      "layer": [
        {
          "data": {"name": "ccz"},
          "mark": {"type": "line", "interpolate": "monotone", "strokeWidth": 4},
          "encoding": {
            "x": {"field": "t", "type": "quantitative", "title": "Vrijeme [s]"},
            "color": {"datum": "Ccz(Wb)"},
            "strokeDash": {"datum": "Ccz(Wb)"}
          }
        },
        {
          "data": {"name": "ccy"},
          "mark": {"type": "line", "interpolate": "monotone", "strokeWidth": 4},
          "encoding": {
            "x": {"field": "t", "type": "quantitative", "title": "Vrijeme [s]"},
            "color": {"datum": "Ccy(Wd)"},
            "strokeDash": {"datum": "Ccy(Wd)"}
          }
        },
        {
          "data": {"name": "rightRules"},
          "mark": {"type": "rule", "color": "#1f1f1f", "strokeWidth": 1.8, "strokeDash": [5, 3]},
          "encoding": {}
        },
        {
          "data": {"name": "rightArrow"},
          "mark": {"type": "rule", "color": "#222222", "strokeWidth": 2},
          "encoding": {"x": {"field": "t", "type": "quantitative", "title": "Vrijeme [s]"}, "y2": {"field": "v2"}}
        },
        {
          "data": {"name": "rightHeads"},
          "mark": {"type": "point", "filled": true, "opacity": 1, "size": 324, "color": "#111111", "strokeWidth": 0},
          "encoding": {
            "x": {"field": "t", "type": "quantitative", "title": "Vrijeme [s]"},
            "shape": {"field": "dir", "type": "nominal", "scale": {"domain": ["up","down"], "range": ["M0,0L-0.75,2L0.75,2Z","M0,0L-0.75,-2L0.75,-2Z"]}, "legend": null}
          }
        },
        {
          "data": {"name": "rightLabels"},
          "mark": {"type": "text", "align": "right", "baseline": "middle", "fontSize": 13.5, "color": "#262626", "font": "Open Sans"},
          "encoding": {"x": {"field": "t", "type": "quantitative", "title": "Vrijeme [s]"}, "text": {"field": "label"}}
        }
      ]
    }
  ],
  "resolve": {"scale": {"y": "independent"}}
}
